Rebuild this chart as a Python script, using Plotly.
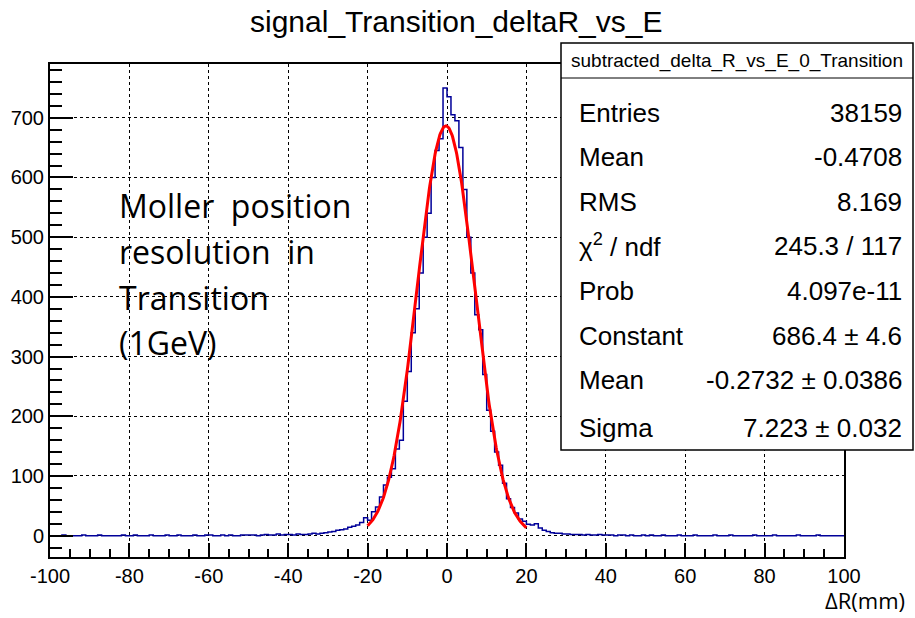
import plotly.graph_objects as go
import math

# ---------------- data ----------------
bin_low = -100
bin_width = 1
counts = (
    [0, 0, 0, 1, 0, 0, 0, 0, 1, 0,
     0, 0, 1, 0, 0, 0, 0, 0, 1, 0,
     0, 1, 0, 0, 0, 1, 0, 0, 0, 1,
     0, 0, 1, 0, 0, 0, 1, 0, 0, 1,
     1, 0, 0, 1, 0, 1, 0, 0, 1, 1]            # -100 .. -51
    + [1, 1, 0, 1, 2, 1, 1, 3, 1, 2]           # -50 .. -41
    + [2, 1, 3, 2, 2, 3, 4, 3, 4, 5]           # -40 .. -31
    + [6, 7, 9, 10, 11, 14, 16, 18, 22, 30]    # -30 .. -21
    + [26, 40, 48, 65, 85, 98, 112, 145, 160, 225]   # -20 .. -11
    + [275, 340, 380, 440, 500, 540, 600, 645, 665, 750]  # -10 .. -1
    + [735, 705, 695, 650, 580, 500, 440, 370, 345, 270]  # 0 .. 9
    + [210, 175, 140, 118, 88, 62, 47, 38, 28, 24]   # 10 .. 19
    + [19, 18, 20, 13, 9, 7, 5, 4, 4, 3]       # 20 .. 29
    + [3, 2, 2, 2, 1, 2, 1, 1, 2, 1]           # 30 .. 39
    + [1, 1, 0, 1, 1, 0, 1, 0, 0, 1,
       0, 1, 0, 0, 1, 0, 0, 0, 1, 0,
       0, 0, 1, 0, 0, 0, 0, 1, 0, 0,
       0, 1, 0, 0, 0, 0, 0, 1, 0, 0,
       0, 0, 1, 0, 0, 0, 0, 0, 1, 0,
       0, 0, 0, 1, 0, 0, 0, 0, 0, 0]           # 40 .. 99
)

fit_constant = 686.4
fit_mean = -0.2732
fit_sigma = 7.223
fit_range = [-20, 20]

x_ticks = [-100, -80, -60, -40, -20, 0, 20, 40, 60, 80, 100]
y_ticks = [0, 100, 200, 300, 400, 500, 600, 700]

title_text = "signal_Transition_deltaR_vs_E"
stats_header = "subtracted_delta_R_vs_E_0_Transition"
stats_labels = ["Entries", "Mean", "RMS", "χ<sup>2</sup> / ndf", "Prob",
                "Constant", "Mean", "Sigma"]
stats_values = ["38159", "-0.4708", "8.169", "245.3 / 117", "4.097e-11",
                "686.4 ± 4.6", "-0.2732 ± 0.0386", "7.223 ± 0.032"]
note_lines = ["Moller\u00a0 position", "resolution\u00a0 in", "Transition", "(1GeV)"]
x_title = "ΔR(mm)"

# ---------------- derived ----------------
edges = [bin_low + i * bin_width for i in range(len(counts) + 1)]
hx = edges
hy = counts + [counts[-1]]

n_fit = 300
fx = [fit_range[0] + (fit_range[1] - fit_range[0]) * i / (n_fit - 1) for i in range(n_fit)]
fy = [fit_constant * math.exp(-0.5 * ((v - fit_mean) / fit_sigma) ** 2) for v in fx]

W, H = 915, 618
L, R, T, B = 50, 71, 64, 61
pw, ph = W - L - R, H - T - B


def px(xp):
    return (xp - L) / pw


def py(yp):
    return (H - B - yp) / ph


fig = go.Figure()
fig.add_trace(go.Scatter(x=hx, y=hy, mode="lines", line=dict(shape="hv", color="#000099", width=1.5),
                         hoverinfo="skip", showlegend=False))
fig.add_trace(go.Scatter(x=fx, y=fy, mode="lines", line=dict(color="#ff0000", width=3),
                         hoverinfo="skip", showlegend=False))

font_main = "Liberation Sans, Arial, Helvetica, sans-serif"
font_note = "Open Sans, Noto Sans, sans-serif"

fig.update_layout(
    width=W, height=H,
    margin=dict(l=L, r=R, t=T, b=B, autoexpand=False),
    paper_bgcolor="white", plot_bgcolor="white",
    showlegend=False,
    font=dict(family=font_main, color="black", size=20),
    xaxis=dict(range=[-100, 100], tickvals=x_ticks, ticktext=[str(v) for v in x_ticks],
               ticks="inside", ticklen=14, tickwidth=1.5, tickcolor="black",
               showline=True, linecolor="black", linewidth=2, mirror=True,
               showgrid=True, gridcolor="black", griddash="dot", gridwidth=1,
               zeroline=False, tickfont=dict(size=20, family=font_main),
               minor=dict(dtick=5, ticks="inside", ticklen=8, tickcolor="black", showgrid=False)),
    yaxis=dict(range=[-35.7, 790], tickvals=y_ticks, ticktext=[str(v) for v in y_ticks],
               ticks="inside", ticklen=23, tickwidth=1.5, tickcolor="black",
               showline=True, linecolor="black", linewidth=2, mirror=True,
               showgrid=True, gridcolor="black", griddash="dot", gridwidth=1,
               zeroline=False, tickfont=dict(size=20, family=font_main),
               minor=dict(dtick=20, ticks="inside", ticklen=12, tickcolor="black", showgrid=False)),
)

annotations = []
annotations.append(dict(text=title_text, x=px(456), xref="paper", y=py(22), yref="paper",
                        xanchor="center", yanchor="middle", showarrow=False,
                        font=dict(size=30, family=font_main)))

# stats box
shapes = [
    dict(type="rect", xref="paper", yref="paper", x0=px(561), x1=px(913), y0=py(450), y1=py(43),
         line=dict(color="black", width=1.5), fillcolor="white", layer="above"),
    dict(type="line", xref="paper", yref="paper", x0=px(561), x1=px(913), y0=py(78), y1=py(78),
         line=dict(color="black", width=1), layer="above"),
]
annotations.append(dict(text=stats_header, x=px(737), y=py(61), xref="paper", yref="paper",
                        xanchor="center", yanchor="middle", showarrow=False,
                        font=dict(size=19, family=font_main)))
row_y = [113, 157, 202, 246, 291, 336, 380, 428]
for lab, val, yy in zip(stats_labels, stats_values, row_y):
    annotations.append(dict(text=lab, x=px(577), y=py(yy), xref="paper", yref="paper",
                            xanchor="left", yanchor="middle", showarrow=False,
                            font=dict(size=26, family=font_main)))
    annotations.append(dict(text=val, x=px(904), y=py(yy), xref="paper", yref="paper",
                            xanchor="right", yanchor="middle", showarrow=False,
                            font=dict(size=26, family=font_main)))

note_y = [206, 251, 297, 342]
for line, yy in zip(note_lines, note_y):
    annotations.append(dict(text=line, x=px(117), y=py(yy), xref="paper", yref="paper",
                            xanchor="left", yanchor="middle", showarrow=False,
                            font=dict(size=32, family=font_note)))

annotations.append(dict(text=x_title, x=px(907), y=py(600), xref="paper", yref="paper",
                        xanchor="right", yanchor="middle", showarrow=False,
                        font=dict(size=22, family=font_note)))

fig.update_layout(annotations=annotations, shapes=shapes)
fig.write_html("out.html")
